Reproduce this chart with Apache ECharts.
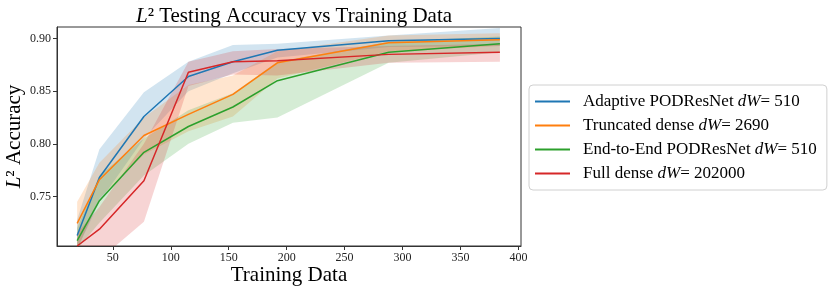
<!DOCTYPE html>
<html>
<head>
<meta charset="utf-8">
<script src="https://cdn.jsdelivr.net/npm/echarts@6/dist/echarts.min.js"></script>
<style>html,body{margin:0;padding:0;background:#fff}#c{width:831px;height:291px}</style>
</head>
<body>
<div id="c"></div>
<script>
// ---- data ----
const trainingData = [19.2, 38.4, 76.8, 115.2, 153.6, 192, 288, 384];
const xTicks = [50, 100, 150, 200, 250, 300, 350, 400];
const yTicks = [0.75, 0.80, 0.85, 0.90];

const seriesNames = [
  'Adaptive PODResNet {i|dW}= 510',
  'Truncated dense {i|dW}= 2690',
  'End-to-End PODResNet {i|dW}= 510',
  'Full dense {i|dW}= 202000'
];
const seriesColors = ['#1f77b4', '#ff7f0e', '#2ca02c', '#d62728'];

const adaptiveMean = [0.713, 0.768, 0.826, 0.864, 0.878, 0.889, 0.898, 0.900];
const adaptiveLow  = [0.700, 0.745, 0.805, 0.850, 0.867, 0.882, 0.892, 0.893];
const adaptiveHigh = [0.728, 0.795, 0.849, 0.878, 0.894, 0.895, 0.903, 0.910];

const truncatedMean = [0.7245, 0.766, 0.808, 0.828, 0.847, 0.877, 0.896, 0.899];
const truncatedLow  = [0.700, 0.748, 0.790, 0.812, 0.826, 0.862, 0.888, 0.893];
const truncatedHigh = [0.745, 0.782, 0.825, 0.856, 0.865, 0.888, 0.903, 0.905];

const endToEndMean = [0.708, 0.746, 0.792, 0.8165, 0.835, 0.860, 0.887, 0.895];
const endToEndLow  = [0.700, 0.725, 0.770, 0.800, 0.820, 0.825, 0.877, 0.887];
const endToEndHigh = [0.720, 0.770, 0.805, 0.832, 0.848, 0.878, 0.897, 0.902];

const fullMean = [0.703, 0.719, 0.765, 0.868, 0.878, 0.879, 0.885, 0.887];
const fullLow  = [0.680, 0.690, 0.726, 0.855, 0.866, 0.865, 0.877, 0.878];
const fullHigh = [0.715, 0.740, 0.800, 0.878, 0.888, 0.890, 0.893, 0.895];

const means = [adaptiveMean, truncatedMean, endToEndMean, fullMean];
const lows = [adaptiveLow, truncatedLow, endToEndLow, fullLow];
const highs = [adaptiveHigh, truncatedHigh, endToEndHigh, fullHigh];

// ---- chart ----
const serif = '"Liberation Serif", "DejaVu Serif", serif';
const series = [];
for (let k = 0; k < 4; k++) {
  const rows = trainingData.map((x, i) => [x, lows[k][i], highs[k][i]]);
  series.push({
    type: 'custom', name: 'band_' + k, silent: true, clip: true, z: 1,
    data: rows,
    encode: { x: 0, y: [1, 2] },
    renderItem: function (params, api) {
      if (params.dataIndex !== 0) return null;
      const top = rows.map(r => api.coord([r[0], r[2]]));
      const bot = rows.map(r => api.coord([r[0], r[1]])).reverse();
      return {
        type: 'polygon',
        shape: { points: top.concat(bot) },
        style: { fill: seriesColors[k], opacity: 0.2 }
      };
    }
  });
}
for (let k = 0; k < 4; k++) {
  series.push({
    type: 'line', name: seriesNames[k],
    data: trainingData.map((x, i) => [x, means[k][i]]),
    symbol: 'none', z: 5, clip: true,
    lineStyle: { color: seriesColors[k], width: 1.5 },
    itemStyle: { color: seriesColors[k] }
  });
}

const chart = echarts.init(document.getElementById('c'), null, { renderer: 'canvas' });
chart.setOption({
  animation: false,
  backgroundColor: '#fff',
  title: {
    text: '{i|L}² Testing Accuracy vs Training Data',
    left: 289, top: 1, textAlign: 'center',
    textStyle: {
      fontFamily: serif, fontSize: 21, fontWeight: 'normal', color: '#000',
      rich: { i: { fontFamily: serif, fontSize: 21, fontStyle: 'italic', color: '#000' } }
    }
  },
  grid: {
    left: 57, top: 27, width: 464, height: 219,
    outerBoundsMode: 'none', containLabel: false,
    show: true, borderColor: '#333', borderWidth: 1, backgroundColor: 'transparent'
  },
  legend: {
    data: seriesNames.map(n => ({ name: n, icon: 'rect' })),
    orient: 'vertical', left: 529, top: 85,
    itemWidth: 35, itemHeight: 2, itemGap: 7,
    padding: [8, 10, 8, 6],
    borderColor: '#d0d0d0', borderWidth: 1, borderRadius: 4,
    backgroundColor: '#fff',
    textStyle: {
      fontFamily: serif, fontSize: 17, color: '#000', padding: [0, 0, 0, 8],
      rich: { i: { fontFamily: serif, fontSize: 17, fontStyle: 'italic', color: '#000' } }
    }
  },
  xAxis: {
    type: 'value', min: 1.8, max: 402.2,
    name: 'Training Data', nameLocation: 'middle', nameGap: 19, nameMoveOverlap: false,
    nameTextStyle: { fontFamily: serif, fontSize: 21, color: '#000' },
    splitLine: { show: false },
    axisLine: { show: true, onZero: false, lineStyle: { color: '#333', width: 1 } },
    axisTick: { show: true, length: 4, customValues: xTicks, lineStyle: { color: '#333' } },
    axisLabel: { customValues: xTicks, fontFamily: serif, fontSize: 12, color: '#222', margin: 6,
      formatter: v => String(Math.round(v)) }
  },
  yAxis: {
    type: 'value', min: 0.703, max: 0.911,
    name: '{i|L}² Accuracy', nameLocation: 'middle', nameGap: 32, nameMoveOverlap: false,
    nameTextStyle: { fontFamily: serif, fontSize: 21, color: '#000',
      rich: { i: { fontFamily: serif, fontSize: 21, fontStyle: 'italic', color: '#000' } } },
    splitLine: { show: false },
    axisLine: { show: true, onZero: false, lineStyle: { color: '#333', width: 1 } },
    axisTick: { show: true, length: 4, customValues: yTicks, lineStyle: { color: '#333' } },
    axisLabel: { customValues: yTicks, fontFamily: serif, fontSize: 12, color: '#222', margin: 6,
      formatter: v => v.toFixed(2) }
  },
  series: series
});
</script>
</body>
</html>
